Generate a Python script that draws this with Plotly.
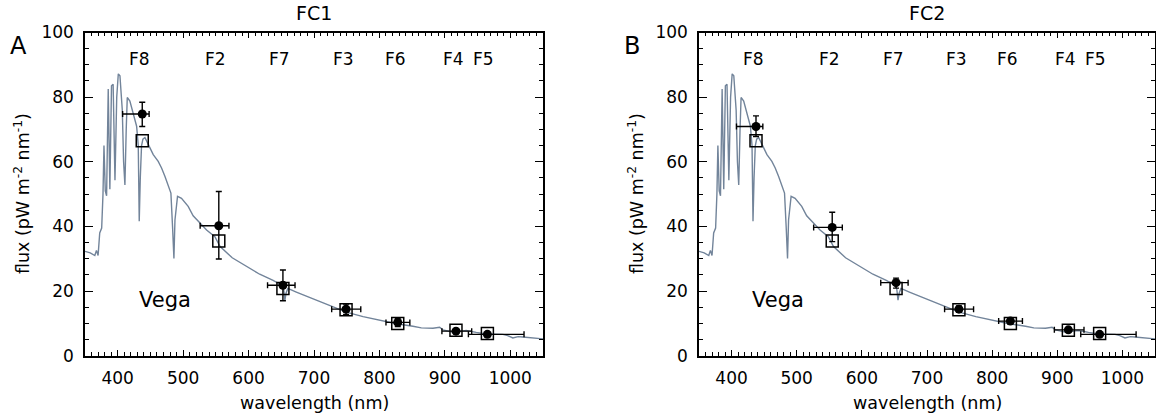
import plotly.graph_objects as go

# ---------------- data ----------------
# Vega model spectrum (wavelength nm, flux pW m^-2 nm^-1)
spec_wl = [350, 358, 365, 367.5, 370, 372.5, 375.5, 377.5, 379, 381, 383, 385.5, 388,
           390.5, 393, 395.8, 398.5, 400.9, 403.4, 405.5, 407, 409, 411, 413, 414.6,
           418.6, 423.8, 428.9, 431.4, 432.9, 434.5, 436.4, 438.5, 441.6, 446.7, 454.3,
           461.9, 467, 472.1, 477.2, 481.3, 483.8, 485.9, 487.5, 489.4, 491.4, 497.5,
           507.7, 515.3, 525.6, 535.8, 548.5, 556.5, 575, 596.9, 617, 637.5, 650, 653.5,
           655.5, 657.5, 660, 673, 698.5, 725, 749.4, 775, 800.4, 825.8, 851.2, 864,
           881.8, 892, 897, 912.3, 925, 932.6, 947.9, 963.2, 988.7, 996, 1003.9, 1012,
           1019, 1035, 1050]
spec_flux = [32.3, 31.8, 31.0, 32.6, 31.0, 38.0, 39.5, 50.0, 65.0, 51.0, 49.5, 82.5, 51.5,
             83.5, 84.0, 54.3, 80.0, 87.2, 86.6, 80.0, 76.0, 60.0, 52.8, 70.0, 79.9,
             78.8, 75.2, 71.0, 65.0, 41.6, 55.0, 64.9, 67.0, 67.5, 65.4, 62.2,
             60.1, 58.1, 55.5, 52.4, 50.3, 40.0, 30.1, 42.0, 47.0, 49.3, 48.7,
             46.2, 43.3, 41.0, 38.9, 36.8, 33.8, 30.3, 27.5, 25.2, 23.3, 21.9, 20.8,
             17.2, 19.5, 20.8, 19.7, 17.6, 15.4, 13.5, 12.1, 10.9, 9.9, 9.1, 8.6,
             8.5, 8.8, 8.0, 7.3, 7.6, 7.8, 7.2, 6.7, 6.6, 6.2, 5.5, 5.9,
             5.8, 5.5, 5.2]

filters = ["F8", "F2", "F7", "F3", "F6", "F4", "F5"]
label_wl = [434, 550, 648, 745, 824, 913, 959]
wl_center = [437.5, 554.5, 652.5, 749, 828, 917, 965]
wl_lo = [407.5, 526, 629, 727, 810, 895.5, 936]
wl_hi = [448, 570, 671, 771.5, 846.5, 941, 1021]

fc1_flux = [74.8, 40.2, 21.8, 14.4, 10.3, 7.6, 6.6]
fc1_lo = [70.9, 29.9, 17.0, 12.8, 9.0, 6.9, 6.0]
fc1_hi = [78.4, 50.8, 26.5, 16.0, 11.6, 8.3, 7.2]

fc2_flux = [70.9, 39.7, 22.6, 14.4, 10.7, 8.0, 6.6]
fc2_lo = [67.8, 35.3, 20.9, 13.4, 9.9, 7.4, 6.1]
fc2_hi = [74.2, 44.4, 24.0, 15.4, 11.5, 8.6, 7.1]

model_flux = [66.5, 35.5, 20.8, 14.2, 10.0, 7.9, 6.9]

x_ticks = [400, 500, 600, 700, 800, 900, 1000]
y_ticks = [0, 20, 40, 60, 80, 100]

# ---------------- figure ----------------
FONT = "DejaVu Sans"
SPEC_COLOR = "#72849a"
W, H = 1156, 418

fig = go.Figure()

panels = [
    ("x", "y", fc1_flux, fc1_lo, fc1_hi),
    ("x2", "y2", fc2_flux, fc2_lo, fc2_hi),
]
for xa, ya, fl, lo, hi in panels:
    fig.add_trace(go.Scatter(x=spec_wl, y=spec_flux, mode="lines",
                             line=dict(color=SPEC_COLOR, width=1.4),
                             xaxis=xa, yaxis=ya, showlegend=False))
    fig.add_trace(go.Scatter(
        x=wl_center, y=fl, mode="markers",
        marker=dict(color="black", size=9, symbol="circle"),
        error_x=dict(type="data", symmetric=False,
                     array=[h - c for h, c in zip(wl_hi, wl_center)],
                     arrayminus=[c - l for l, c in zip(wl_lo, wl_center)],
                     color="black", thickness=1.4, width=3),
        error_y=dict(type="data", symmetric=False,
                     array=[h - f for h, f in zip(hi, fl)],
                     arrayminus=[f - l for l, f in zip(lo, fl)],
                     color="black", thickness=1.4, width=3),
        xaxis=xa, yaxis=ya, showlegend=False))
    fig.add_trace(go.Scatter(
        x=wl_center, y=model_flux, mode="markers",
        marker=dict(color="black", size=12, symbol="square-open",
                    line=dict(color="black", width=1.5)),
        xaxis=xa, yaxis=ya, showlegend=False))

def xax(domain, anchor):
    return dict(domain=domain, anchor=anchor, range=[350, 1050], automargin=False,
                tickvals=x_ticks, ticks="inside", ticklen=6, tickwidth=1.3,
                tickcolor="black", showline=True, linecolor="black", linewidth=1.5,
                mirror="ticks", showgrid=False, zeroline=False,
                minor=dict(dtick=10, tick0=0, ticks="inside", ticklen=3.5,
                           tickwidth=1, tickcolor="black", showgrid=False),
                tickfont=dict(family=FONT, size=17, color="black"),
                ticklabelstandoff=6)

def yax(domain, anchor):
    return dict(domain=domain, anchor=anchor, range=[0, 100], automargin=False,
                tickvals=y_ticks, ticks="inside", ticklen=8, tickwidth=1.3,
                tickcolor="black", showline=True, linecolor="black", linewidth=1.5,
                mirror="ticks", showgrid=False, zeroline=False,
                minor=dict(dtick=5, tick0=0, ticks="inside", ticklen=4.5,
                           tickwidth=1, tickcolor="black", showgrid=False),
                tickfont=dict(family=FONT, size=17, color="black"),
                ticklabelstandoff=6)

xa_dom = [85 / W, 543 / W]
xb_dom = [699 / W, 1155 / W]
y_dom = [1 - 355.7 / H, 1 - 32.5 / H]

def paper_ann(text, x, y, size, angle=0):
    return dict(text=text, x=x, y=y, xref="paper", yref="paper", xanchor="center",
                yanchor="middle", textangle=angle, showarrow=False,
                font=dict(family=FONT, size=size, color="black"))

ann = []
for xa, ya, title, letter, xd in [("x", "y", "FC1", "A", xa_dom),
                                   ("x2", "y2", "FC2", "B", xb_dom)]:
    cx = (xd[0] + xd[1]) / 2
    ann.append(paper_ann(title, cx, 1 - 13 / H, 19))
    ann.append(paper_ann(letter, xd[0] - 67 / W, 1 - 46 / H, 24))
    ann.append(paper_ann("wavelength (nm)", cx, 1 - 403 / H, 17.5))
    ann.append(paper_ann("flux (pW m<sup>-2</sup> nm<sup>-1</sup>)", xd[0] - 63 / W,
                         (y_dom[0] + y_dom[1]) / 2, 17.5, angle=-90))
    for name, wl in zip(filters, label_wl):
        ann.append(dict(text=name, x=wl, y=91.8, xref=xa, yref=ya, showarrow=False,
                        xanchor="center", yanchor="middle",
                        font=dict(family=FONT, size=17, color="black")))
    ann.append(dict(text="Vega", x=472, y=17.2, xref=xa, yref=ya, showarrow=False,
                    xanchor="center", yanchor="middle",
                    font=dict(family=FONT, size=21, color="black")))

fig.update_layout(
    width=W, height=H, margin=dict(l=0, r=0, t=0, b=0, autoexpand=False),
    paper_bgcolor="white", plot_bgcolor="white",
    xaxis=xax(xa_dom, "y"), yaxis=yax(y_dom, "x"),
    xaxis2=xax(xb_dom, "y2"), yaxis2=yax(y_dom, "x2"),
    annotations=ann, showlegend=False,
)

fig.write_html("out.html", config={"displayModeBar": False},
               post_script="document.body.style.margin='0px';"
                           "document.body.style.overflow='hidden';")
